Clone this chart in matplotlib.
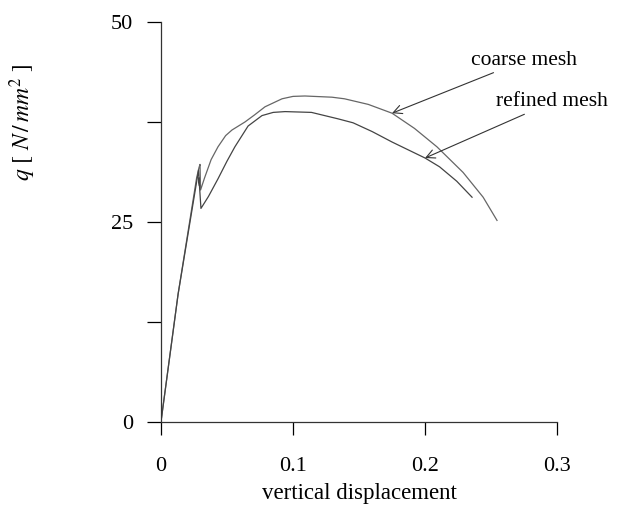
import matplotlib.pyplot as plt
from matplotlib.ticker import MultipleLocator

plt.rcParams['font.family'] = ['Liberation Serif', 'DejaVu Serif']
plt.rcParams['mathtext.fontset'] = 'stix'

# coarse mesh: displacement vs load
coarse_x = [0.0, 0.013, 0.027, 0.0288, 0.0296, 0.0300, 0.0330, 0.038, 0.0432,
            0.049, 0.0538, 0.0636, 0.071, 0.0788, 0.0917, 0.100, 0.109,
            0.1295, 0.139, 0.157, 0.175, 0.192, 0.209, 0.2288, 0.244, 0.2545]
coarse_y = [0.0, 16.0, 30.5, 31.8, 32.2, 29.0, 30.5, 32.8, 34.4,
            35.8, 36.5, 37.5, 38.4, 39.4, 40.4, 40.7, 40.75,
            40.6, 40.4, 39.7, 38.6, 36.7, 34.4, 31.2, 28.1, 25.2]

# refined mesh
refined_x = [0.0, 0.013, 0.027, 0.0285, 0.0292, 0.0288, 0.0303, 0.036, 0.0432,
             0.050, 0.056, 0.066, 0.0765, 0.085, 0.094, 0.114, 0.134,
             0.1455, 0.160, 0.175, 0.2, 0.211, 0.224, 0.2356]
refined_y = [0.0, 16.0, 30.0, 31.5, 29.5, 30.5, 26.7, 28.2, 30.4,
             32.6, 34.4, 37.0, 38.3, 38.7, 38.8, 38.7, 37.9,
             37.4, 36.3, 35.0, 33.0, 31.9, 30.1, 28.1]

x_ticks = [0, 0.1, 0.2, 0.3]
x_tick_labels = ['0', '0.1', '0.2', '0.3']
y_ticks = [0, 25, 50]

fig = plt.figure(figsize=(6.19, 5.11), dpi=100)
ax = fig.add_axes([0.260, 0.174, 0.640, 0.783])

ax.plot(coarse_x, coarse_y, color='#666666', lw=0.9)
ax.plot(refined_x, refined_y, color='#444444', lw=0.9)

ax.set_xlim(0, 0.3)
ax.set_ylim(0, 50)
ax.spines['top'].set_visible(False)
ax.spines['right'].set_visible(False)
for s in ['left', 'bottom']:
    ax.spines[s].set_color('#333333')
    ax.spines[s].set_linewidth(0.9)

ax.set_xticks(x_ticks)
ax.set_xticklabels(x_tick_labels)
ax.set_yticks(y_ticks)
ax.yaxis.set_minor_locator(MultipleLocator(12.5))
ax.tick_params(axis='x', length=9, width=0.9, pad=16, labelsize=16)
ax.tick_params(axis='y', which='major', length=10, width=0.9, pad=10, labelsize=16)
ax.tick_params(axis='y', which='minor', length=10, width=0.9)

ax.set_xlabel('vertical displacement', fontsize=16.5)
ax.xaxis.set_label_coords(0.5, -0.152)
ax.set_ylabel(r'$q\ [\ N\,/\,mm^2\ ]$', fontsize=17)
ax.yaxis.set_label_coords(-0.31, 0.75)

arrow = dict(arrowstyle='->', color='#333333', lw=0.8, shrinkA=0, shrinkB=0)
ax.annotate('coarse mesh', xy=(0.175, 38.6), xytext=(0.235, 45.2),
            fontsize=15.5, ha='left', va='center', arrowprops=arrow)
ax.annotate('refined mesh', xy=(0.20, 33.0), xytext=(0.254, 40.0),
            fontsize=15.5, ha='left', va='center', arrowprops=arrow)

fig.savefig('out.png', dpi=100)
